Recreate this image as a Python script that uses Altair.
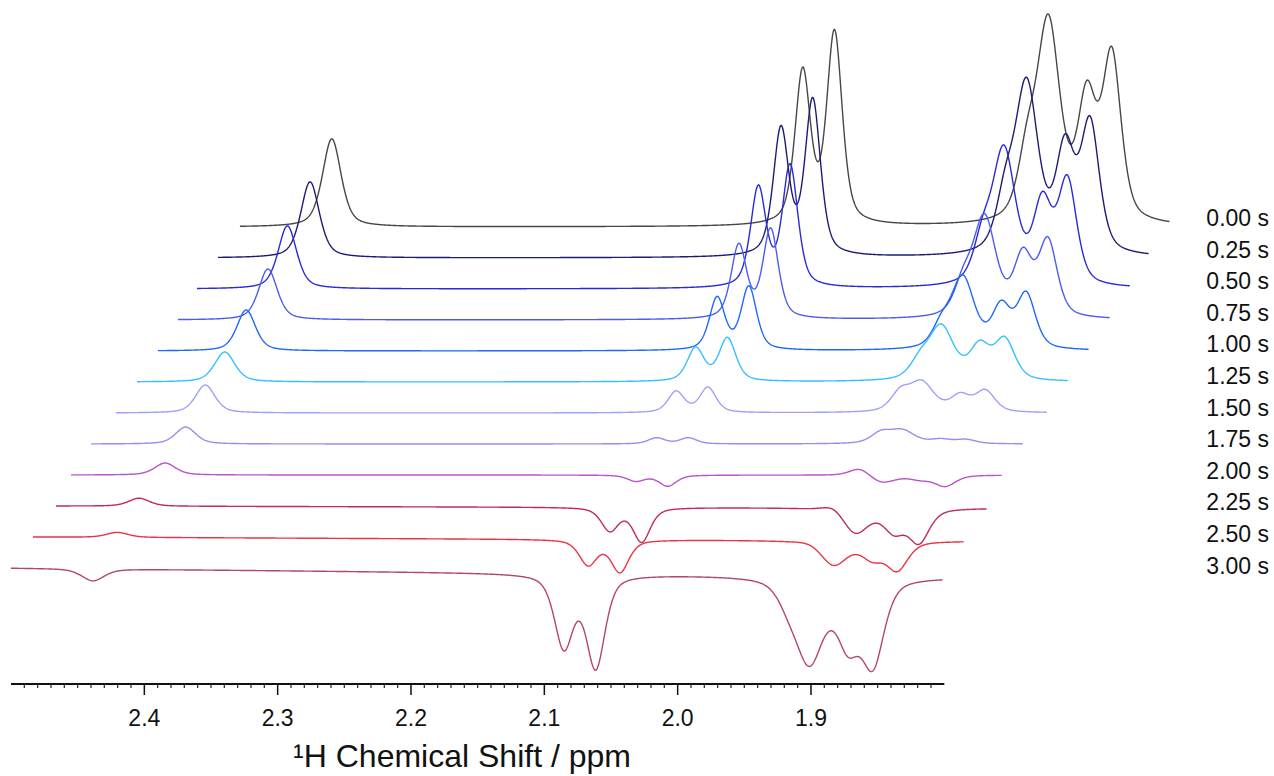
import altair as alt
import numpy as np
import pandas as pd

# ---------------- data ----------------
labels = ["0.00 s", "0.25 s", "0.50 s", "0.75 s", "1.00 s", "1.25 s",
          "1.50 s", "1.75 s", "2.00 s", "2.25 s", "2.50 s", "3.00 s"]
colors = ["#474747", "#1c1c78", "#2a2ad6", "#4b5cf0", "#1f68fb", "#35c0ff",
          "#9f9ffc", "#a488ee", "#b655cc", "#c02a62", "#ec3344", "#b44766"]

# horizontal offset of each spectrum (ppm) in the stacked plot
shift_ppm = [0.1791, 0.1628, 0.1458, 0.1312, 0.1149, 0.0988,
             0.0842, 0.0695, 0.0541, 0.0345, 0.0182, 0.0]
# drawn window of each spectrum on the shared axis (ppm, left / right ends)
win_left = [2.3283, 2.3448, 2.3605, 2.3748, 2.3898, 2.4055,
            2.4213, 2.4400, 2.4550, 2.4663, 2.4835, 2.5000]
win_right = [1.6308, 1.6465, 1.6608, 1.6758, 1.6915, 1.7075,
             1.7232, 1.7412, 1.7570, 1.7682, 1.7852, 1.8010]

# resonance positions (ppm): singlet, doublet (2 lines), multiplet (4 lines)
line_ppm = [2.4385, 2.0853, 2.0615, 1.9172, 1.9011, 1.8722, 1.8535]
line_wfac = [1.2, 1.0, 1.0, 1.2, 1.5, 1.2, 1.2]

# line intensities per spectrum (arbitrary units)
amp_s = [88, 76, 63, 51, 41, 30, 28, 17, 12, 8, 5, -12]
amp_d1 = [152, 126, 99, 73, 52, 33, 21, 6, -6, -23, -25, -72]
amp_d2 = [191, 155, 121, 89, 63, 43, 25, 6, -11, -34, -32, -92]
amp_m0 = [55, 48, 38, 28, 20, 16, 18, 10, 8, 6, 2, -15]
amp_m1 = [198, 168, 134, 99, 71, 53, 29, 13, -8, -25, -24, -82]
amp_m2 = [118, 101, 79, 59, 41, 33, 16, 4, -4, -22, -16, -60]
amp_m3 = [164, 128, 103, 75, 54, 40, 21, 4, -11, -33, -28, -82]
# line width (FWHM, ppm) per spectrum
width_ppm = [0.0138, 0.0138, 0.0138, 0.0138, 0.0138, 0.0150,
             0.0145, 0.0150, 0.0155, 0.0155, 0.0160, 0.0168]
# baseline drift across the window
tilt = [0, 0, 0, 0, 0, 0, 0, 0, 0, -2, -4, -9]

# axis
major_ticks = [2.4, 2.3, 2.2, 2.1, 2.0, 1.9]
axis_lo, axis_hi = 1.8, 2.5
step = 31  # vertical spacing between spectra

# ---------------- build the table ----------------
amps = np.array([amp_s, amp_d1, amp_d2, amp_m0, amp_m1, amp_m2, amp_m3], float).T
rows = []
n = len(labels)
for i in range(n):
    disp = np.arange(win_left[i], win_right[i] - 1e-9, -0.0004)
    own = disp + shift_ppm[i]
    y = np.zeros_like(own)
    for j, c in enumerate(line_ppm):
        w = width_ppm[i] * line_wfac[j]
        g = w / 2.0
        sig = w / 2.3548
        d = own - c
        lor = 1.0 / (1.0 + (d / g) ** 2)
        gau = np.exp(-0.5 * (d / sig) ** 2)
        y += amps[i, j] * (0.5 * lor + 0.5 * gau)
    frac = (win_left[i] - disp) / (win_left[i] - win_right[i])
    y += tilt[i] * frac + step * (n - 1 - i)
    rows.append(pd.DataFrame({"x": disp, "y": y, "label": labels[i], "k": i}))
spec = pd.concat(rows, ignore_index=True)

# ---------------- scales (pixel-true layout) ----------------
W, H = 1274, 776
px_per_ppm = 1333.33
x0_ppm = axis_hi + 11 / px_per_ppm
xs = alt.Scale(domain=[x0_ppm - W / px_per_ppm, x0_ppm], reverse=True, nice=False, zero=False)
ys = alt.Scale(domain=[-(H - 568), 568], nice=False, zero=False)

X = lambda f: alt.X(f, type="quantitative", scale=xs, axis=None)
Y = lambda f: alt.Y(f, type="quantitative", scale=ys, axis=None)

lines = alt.Chart(spec).mark_line(strokeWidth=1.4).encode(
    x=X("x"), y=Y("y"),
    color=alt.Color("label:N", scale=alt.Scale(domain=labels, range=colors), legend=None),
    detail="k:N",
)

axis_y = -116
dom = alt.Chart(pd.DataFrame({"a": [axis_hi], "b": [axis_lo], "y": [axis_y]})).mark_rule(
    strokeWidth=2, color="#111").encode(x=X("a"), x2="b", y=Y("y"))

minor_vals = [round(axis_hi - 0.01 * t, 2) for t in range(1, 70)]
minor_vals = [v for v in minor_vals if all(abs(v - m) > 1e-6 for m in major_ticks)]
minor = alt.Chart(pd.DataFrame({"x": minor_vals, "y": axis_y, "y2": axis_y - 4})).mark_rule(
    strokeWidth=1.3, color="#333").encode(x=X("x"), y=Y("y"), y2="y2")
major = alt.Chart(pd.DataFrame({"x": major_ticks, "y": axis_y, "y2": axis_y - 11})).mark_rule(
    strokeWidth=1.5, color="#111").encode(x=X("x"), y=Y("y"), y2="y2")
tick_lab = alt.Chart(pd.DataFrame({"x": major_ticks, "y": axis_y - 35,
                                   "t": [f"{v:.1f}" for v in major_ticks]})).mark_text(
    font="Liberation Sans", fontSize=23, color="#111", baseline="middle", align="center").encode(
    x=X("x"), y=Y("y"), text="t:N")

title = alt.Chart(pd.DataFrame({"t": ["\u00b9H Chemical Shift / ppm"]})).mark_text(
    font="Liberation Sans", fontSize=32, color="#111", baseline="middle", align="center").encode(
    x=alt.value(462), y=alt.value(757), text="t:N")

lab_df = pd.DataFrame({"t": labels,
                       "y": [step * (n - 1 - i) + 8 - 0.6 * i for i in range(n)]})
side = alt.Chart(lab_df).mark_text(
    font="Liberation Sans", fontSize=23, color="#111", baseline="middle", align="right").encode(
    x=alt.value(1269), y=Y("y"), text="t:N")

chart = alt.layer(lines, dom, minor, major, tick_lab, title, side).properties(
    width=W, height=H, padding=0, autosize=alt.AutoSizeParams(type="none"),
    background="white",
).configure_view(stroke=None)

chart.save("out.html", embed_options={"renderer": "svg", "actions": False})
